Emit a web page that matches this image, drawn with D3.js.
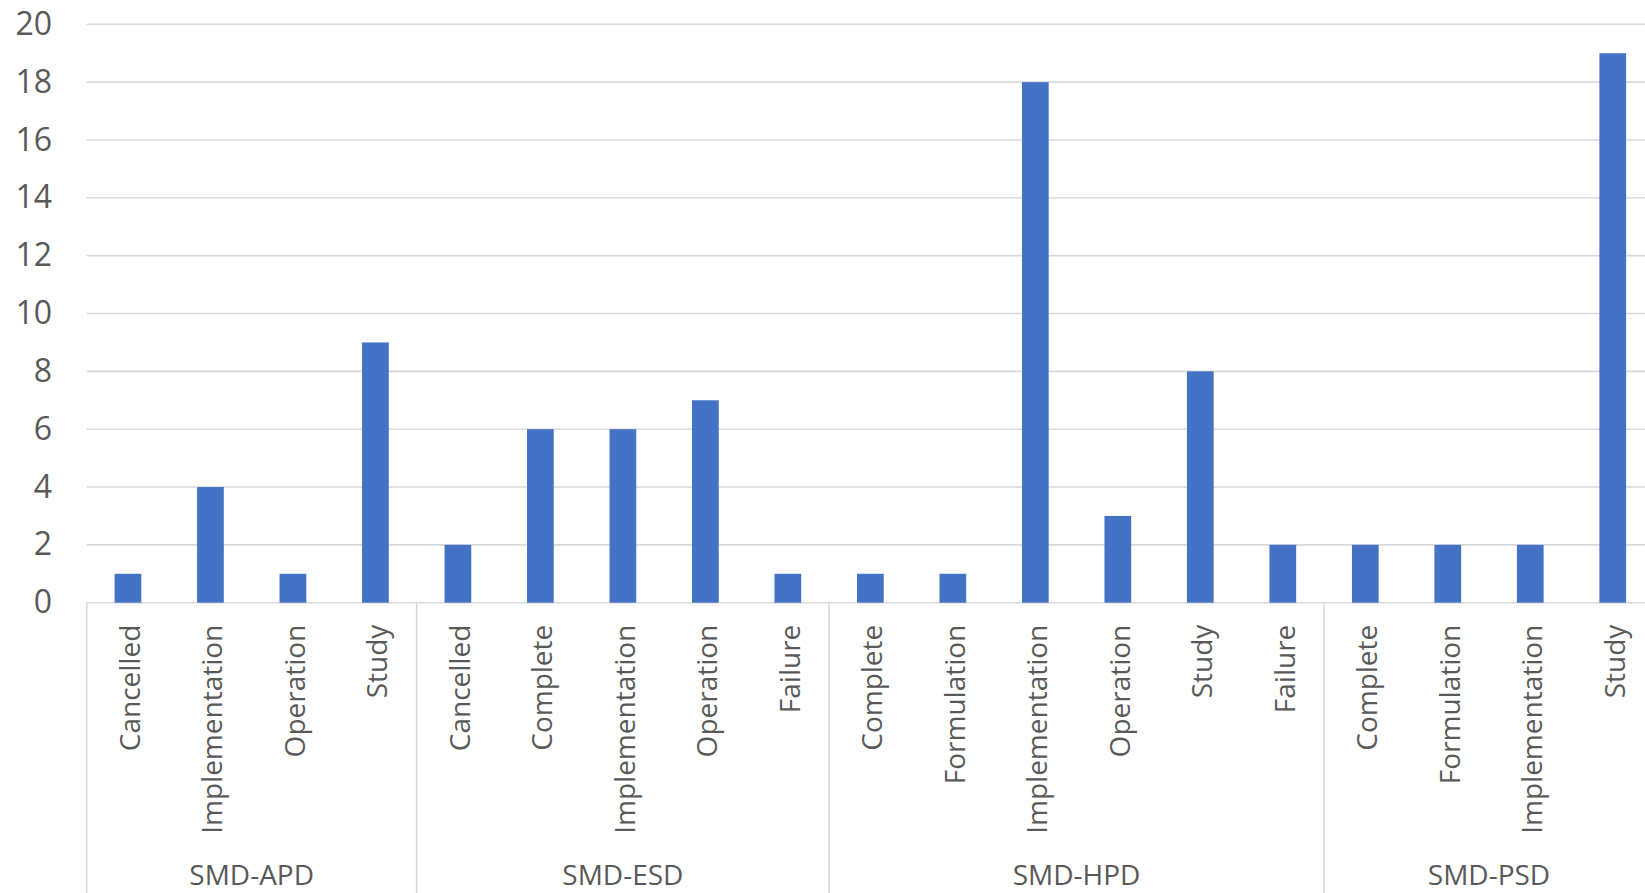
<!DOCTYPE html>
<html>
<head>
<meta charset="utf-8">
<script src="https://cdn.jsdelivr.net/npm/d3@7"></script>
<style>
  html, body { margin: 0; padding: 0; background: #ffffff; }
  svg { display: block; }
  text { font-family: "Open Sans", "Noto Sans", sans-serif; fill: #595959; }
</style>
</head>
<body>
<svg id="chart" width="1645" height="893"></svg>
<script>
// Project counts by division and status
const groups = ["SMD-APD", "SMD-ESD", "SMD-HPD", "SMD-PSD"];
const statuses = [
  ["Cancelled", "Implementation", "Operation", "Study"],
  ["Cancelled", "Complete", "Implementation", "Operation", "Failure"],
  ["Complete", "Formulation", "Implementation", "Operation", "Study", "Failure"],
  ["Complete", "Formulation", "Implementation", "Study"]
];
const counts = [
  [1, 4, 1, 9],
  [2, 6, 6, 7, 1],
  [1, 1, 18, 3, 8, 2],
  [2, 2, 2, 19]
];
const yTicks = [0, 2, 4, 6, 8, 10, 12, 14, 16, 18, 20];

// Flatten into one row per bar
const rows = [];
groups.forEach((g, gi) => {
  statuses[gi].forEach((s, si) => {
    rows.push({ id: g + "|" + s, group: g, gi, status: s, value: counts[gi][si] });
  });
});

const svg = d3.select("#chart");
const plotLeft = 86.7, plotRight = 1654, yTop = 24.3, yZero = 602.7;

const x = d3.scaleBand()
  .domain(rows.map(d => d.id))
  .range([plotLeft, plotRight])
  .paddingInner(0.676)
  .paddingOuter(0.338);

const y = d3.scaleLinear().domain([0, 20]).range([yZero, yTop]);

const step = x.step();
const cellLeft = id => x(id) + x.bandwidth() / 2 - step / 2;
const cellCenter = id => x(id) + x.bandwidth() / 2;

// Horizontal gridlines
svg.append("g")
  .selectAll("line")
  .data(yTicks)
  .join("line")
  .attr("x1", plotLeft)
  .attr("x2", 1645)
  .attr("y1", d => y(d))
  .attr("y2", d => y(d))
  .attr("stroke", "#d9d9d9")
  .attr("stroke-width", 1.6);

// Y tick labels
svg.append("g")
  .selectAll("text")
  .data(yTicks)
  .join("text")
  .attr("x", 52)
  .attr("y", d => y(d))
  .attr("dy", "0.33em")
  .attr("text-anchor", "end")
  .style("font-size", "32px")
  .text(d => d);

// Bars
svg.append("g")
  .selectAll("rect")
  .data(rows)
  .join("rect")
  .attr("x", d => x(d.id))
  .attr("width", x.bandwidth())
  .attr("y", d => y(d.value))
  .attr("height", d => y(0) - y(d.value))
  .attr("fill", "#4472c4");

// Group dividers below the axis
const groupStarts = groups.map((g, gi) => rows.find(r => r.gi === gi));
const groupEnds = groups.map((g, gi) => rows.filter(r => r.gi === gi).slice(-1)[0]);
svg.append("g")
  .selectAll("line")
  .data(groupStarts)
  .join("line")
  .attr("x1", d => cellLeft(d.id))
  .attr("x2", d => cellLeft(d.id))
  .attr("y1", yZero)
  .attr("y2", 893)
  .attr("stroke", "#d9d9d9")
  .attr("stroke-width", 1.6);

// Status labels, rotated
svg.append("g")
  .selectAll("text")
  .data(rows)
  .join("text")
  .attr("transform", d => `translate(${cellCenter(d.id)},${yZero + 22}) rotate(-90)`)
  .attr("dy", "0.42em")
  .attr("text-anchor", "end")
  .style("font-size", "28px")
  .text(d => d.status);

// Division labels
svg.append("g")
  .selectAll("text")
  .data(groups)
  .join("text")
  .attr("x", (g, gi) => (cellLeft(groupStarts[gi].id) + cellLeft(groupEnds[gi].id) + step) / 2)
  .attr("y", 885)
  .attr("text-anchor", "middle")
  .style("font-size", "28px")
  .text(g => g);
</script>
</body>
</html>
